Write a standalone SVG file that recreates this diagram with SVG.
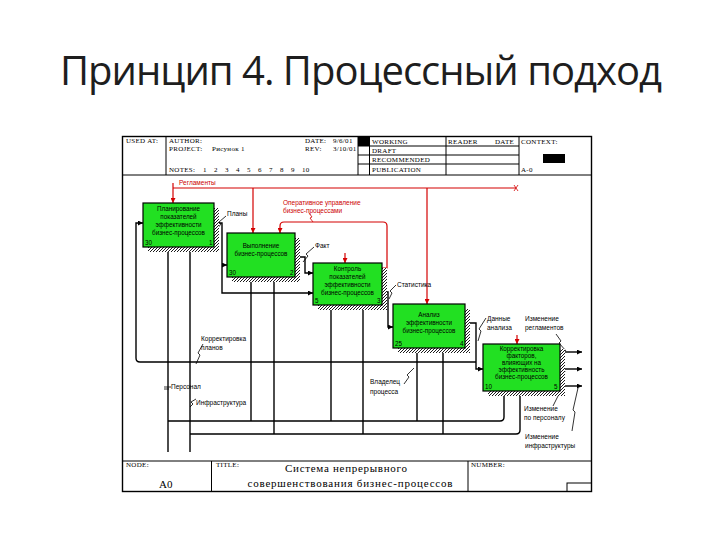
<svg xmlns="http://www.w3.org/2000/svg" width="720" height="540" viewBox="0 0 720 540">
<defs>
<style>
.title{font-family:"Open Sans","Liberation Sans",sans-serif;font-size:40px;fill:#1e1e1e}
.hd{font-family:"Liberation Serif",serif;font-size:7px;fill:#000;letter-spacing:0.3px}
.ft{font-family:"Liberation Serif",serif;font-size:11px;fill:#000}
.ln{fill:none;stroke:#000;stroke-width:1}
.fr{fill:none;stroke:#000;stroke-width:1.4}
.bx{fill:#22e022;stroke:#000;stroke-width:1.2}
.sh{fill:url(#hatch)}
.bt{font-family:"Liberation Sans",sans-serif;font-size:6.3px;fill:#000;text-anchor:middle}
.bn{font-family:"Liberation Sans",sans-serif;font-size:6.3px;fill:#000}
.lb{font-family:"Liberation Sans",sans-serif;font-size:6.5px;fill:#000}
.rl{font-family:"Liberation Sans",sans-serif;font-size:6.5px;fill:#cc0000}
.k{fill:none;stroke:#000;stroke-width:1.4}
.kt{fill:none;stroke:#000;stroke-width:0.8}
.r{fill:none;stroke:#d40000;stroke-width:1.2}
.rt{fill:none;stroke:#d40000;stroke-width:0.8}
</style>
<pattern id="hatch" width="3" height="3" patternUnits="userSpaceOnUse">
<rect width="3" height="3" fill="#fff"/>
<path d="M0,3 L3,0" stroke="#000" stroke-width="0.9"/>
</pattern>
<marker id="ak" viewBox="0 0 6 6" refX="6" refY="3" markerWidth="5" markerHeight="5" markerUnits="userSpaceOnUse" orient="auto"><path d="M0,0 L6,3 L0,6 Z" fill="#000"/></marker>
<marker id="ar" viewBox="0 0 6 6" refX="6" refY="3" markerWidth="5" markerHeight="5" markerUnits="userSpaceOnUse" orient="auto"><path d="M0,0 L6,3 L0,6 Z" fill="#d40000"/></marker>
</defs>
<rect width="720" height="540" fill="#fff"/>
<text class="title" x="60" y="85" textLength="602">Принцип 4. Процессный подход</text>

<g id="frame">
<rect class="fr" x="122.5" y="136.5" width="469" height="355"/>
<path class="ln" d="M122.5,175 H591.5 M166,136.5 V175 M358,136.5 V175 M369.5,136.5 V175 M446,136.5 V175 M519,136.5 V175 M358,146 H519 M358,155 H519 M358,164 H519"/>
<rect x="358" y="136.5" width="11.5" height="9.5" fill="#000"/>
<rect x="543" y="154" width="22" height="9" fill="#000"/>
<text class="hd" x="126" y="143">USED AT:</text>
<text class="hd" x="169" y="143">AUTHOR:</text>
<text class="hd" x="169" y="151">PROJECT:</text>
<text class="hd" x="212" y="151">Рисунок 1</text>
<text class="hd" x="305" y="143">DATE:</text>
<text class="hd" x="333" y="143">9/6/01</text>
<text class="hd" x="305" y="151">REV:</text>
<text class="hd" x="333" y="151">3/10/01</text>
<text class="hd" x="169" y="172">NOTES:</text>
<text class="hd" x="203" y="172">1</text><text class="hd" x="214" y="172">2</text><text class="hd" x="225" y="172">3</text><text class="hd" x="236" y="172">4</text><text class="hd" x="247" y="172">5</text><text class="hd" x="258" y="172">6</text><text class="hd" x="269" y="172">7</text><text class="hd" x="280" y="172">8</text><text class="hd" x="291" y="172">9</text><text class="hd" x="302" y="172">10</text>
<text class="hd" x="372" y="144">WORKING</text>
<text class="hd" x="372" y="153">DRAFT</text>
<text class="hd" x="372" y="162">RECOMMENDED</text>
<text class="hd" x="372" y="172">PUBLICATION</text>
<text class="hd" x="448" y="144">READER</text>
<text class="hd" x="495" y="144">DATE</text>
<text class="hd" x="521" y="144">CONTEXT:</text>
<text class="hd" x="521" y="172">A-0</text>
<path class="ln" d="M122.5,461 H591.5 M211.5,461 V491.5 M468,461 V491.5"/>
<rect class="ln" x="567" y="483" width="24.5" height="8.5"/>
<text class="hd" x="126" y="467">NODE:</text>
<text class="ft" x="159" y="488" font-size="10">A0</text>
<text class="hd" x="216" y="467">TITLE:</text>
<text class="hd" x="471" y="467">NUMBER:</text>
<text class="ft" x="346" y="472" text-anchor="middle" textLength="122">Система непрерывного</text>
<text class="ft" x="350" y="487" text-anchor="middle" textLength="205">совершенствования бизнес-процессов</text>
</g>

<g id="connectors">
<!-- controls (red) -->
<path class="r" d="M173,183 V203" marker-end="url(#ar)"/>
<path class="r" d="M173,188 H516"/>
<path class="rt" d="M514,185 L518,191 M518,185 L514,191"/>
<path class="r" d="M253,188 V233" marker-end="url(#ar)"/>
<path class="r" d="M427,188 V304" marker-end="url(#ar)"/>
<path class="r" d="M382,268 H387 V226 Q387,222 383,222 H284 Q280,222 280,226 V233" marker-end="url(#ar)"/>
<path class="r" d="M345,253 V263" marker-end="url(#ar)"/>
<path class="r" d="M517,335 V344" marker-end="url(#ar)"/>
<path class="rt" d="M309,213 L312,217 L310,218 L313,222"/>
<!-- outputs / inputs -->
<path class="k" d="M214,223 H222 V293 H313" marker-end="url(#ak)"/>
<path class="k" d="M222,265 H227" marker-end="url(#ak)"/>
<path class="k" d="M295,257 H305 V273 H313" marker-end="url(#ak)"/>
<path class="k" d="M382,292 H388 V327 H393" marker-end="url(#ak)"/>
<path class="k" d="M465,323 H476 V369 H483" marker-end="url(#ak)"/>
<path class="k" d="M476,362 H140 Q136,362 136,358 V223 H143" marker-end="url(#ak)"/>
<path class="k" d="M560,352 H582" marker-end="url(#ak)"/>
<path class="k" d="M560,369 H582" marker-end="url(#ak)"/>
<path class="k" d="M560,386 H582" marker-end="url(#ak)"/>
<!-- mechanisms -->
<path class="k" d="M168,452 V247" marker-end="url(#ak)"/>
<path class="k" d="M190,452 V247" marker-end="url(#ak)"/>
<path class="k" d="M168,421 H500 Q504,421 504,417 V391" marker-end="url(#ak)"/>
<path class="k" d="M190,434 H516 Q520,434 520,430 V391" marker-end="url(#ak)"/>
<path class="k" d="M251,421 V277" marker-end="url(#ak)"/>
<path class="k" d="M274,434 V277" marker-end="url(#ak)"/>
<path class="k" d="M331,421 V305" marker-end="url(#ak)"/>
<path class="k" d="M363,434 V305" marker-end="url(#ak)"/>
<path class="k" d="M417,421 V348" marker-end="url(#ak)"/>
<path class="k" d="M443,434 V348" marker-end="url(#ak)"/>
<!-- label squiggles -->
<path class="kt" d="M217,229 L221,224 L219,222 L226,216"/>
<path class="kt" d="M303,262 L308,256 L306,254 L314,247"/>
<path class="kt" d="M389,299 L392,293 L390,291 L396,285"/>
<path class="kt" d="M478,341 L481,331 L479,329 L486,318"/>
<path class="kt" d="M196,364 L200,355 L198,353 L203,344"/>
<path class="kt" d="M164,387 H171 M164,389 H169"/>
<path class="kt" d="M190,407 L193,404 L191,402 L196,399"/>
<path class="kt" d="M404,384 L409,377 L407,375 L414,368"/>
<path class="kt" d="M556,334 L561,341 L559,343 L566,351"/>
<path class="kt" d="M553,406 L559,394 L557,392 L565,371"/>
<path class="kt" d="M572,431 L575,412 L573,410 L578,388"/>
</g>

<g id="labels">
<text class="rl" x="179" y="185">Регламенты</text>
<text class="rl" x="283" y="205">Оперативное управление</text>
<text class="rl" x="283" y="213">бизнес-процессами</text>
<text class="lb" x="227" y="216">Планы</text>
<text class="lb" x="315" y="248">Факт</text>
<text class="lb" x="397" y="287">Статистика</text>
<text class="lb" x="487" y="321">Данные</text>
<text class="lb" x="487" y="330">анализа</text>
<text class="lb" x="525" y="321">Изменение</text>
<text class="lb" x="525" y="330">регламентов</text>
<text class="lb" x="201" y="341">Корректировка</text>
<text class="lb" x="201" y="350">планов</text>
<text class="lb" x="171" y="389">Персонал</text>
<text class="lb" x="196" y="405">Инфраструктура</text>
<text class="lb" x="370" y="384">Владелец</text>
<text class="lb" x="370" y="394">процесса</text>
<text class="lb" x="524" y="411">Изменение</text>
<text class="lb" x="524" y="420">по персоналу</text>
<text class="lb" x="525" y="439">Изменение</text>
<text class="lb" x="525" y="448">инфраструктуры</text>
</g>

<g id="box1">
<rect class="sh" x="148" y="208" width="71" height="44"/>
<rect class="bx" x="143" y="203" width="71" height="44"/>
<text class="bt" x="178.5" y="211">Планирование</text>
<text class="bt" x="178.5" y="219">показателей</text>
<text class="bt" x="178.5" y="227">эффективности</text>
<text class="bt" x="178.5" y="235">бизнес-процессов</text>
<text class="bn" x="145" y="245">30</text>
<text class="bn" x="209" y="245">1</text>
</g>
<g id="box2">
<rect class="sh" x="232" y="238" width="68" height="44"/>
<rect class="bx" x="227" y="233" width="68" height="44"/>
<text class="bt" x="261" y="248">Выполнение</text>
<text class="bt" x="261" y="256">бизнес-процессов</text>
<text class="bn" x="229" y="275">30</text>
<text class="bn" x="290" y="275">2</text>
</g>
<g id="box3">
<rect class="sh" x="318" y="268" width="69" height="42"/>
<rect class="bx" x="313" y="263" width="69" height="42"/>
<text class="bt" x="347.5" y="271">Контроль</text>
<text class="bt" x="347.5" y="279">показателей</text>
<text class="bt" x="347.5" y="287">эффективности</text>
<text class="bt" x="347.5" y="295">бизнес-процессов</text>
<text class="bn" x="315" y="303">5</text>
<text class="bn" x="377" y="303">3</text>
</g>
<g id="box4">
<rect class="sh" x="398" y="309" width="72" height="44"/>
<rect class="bx" x="393" y="304" width="72" height="44"/>
<text class="bt" x="429" y="317">Анализ</text>
<text class="bt" x="429" y="325">эффективности</text>
<text class="bt" x="429" y="333">бизнес-процессов</text>
<text class="bn" x="395" y="346">25</text>
<text class="bn" x="460" y="346">4</text>
</g>
<g id="box5">
<rect class="sh" x="488" y="349" width="77" height="47"/>
<rect class="bx" x="483" y="344" width="77" height="47"/>
<text class="bt" x="521.5" y="351">Корректировка</text>
<text class="bt" x="521.5" y="358">факторов,</text>
<text class="bt" x="521.5" y="365">влияющих на</text>
<text class="bt" x="521.5" y="372">эффективность</text>
<text class="bt" x="521.5" y="379">бизнес-процессов</text>
<text class="bn" x="485" y="389">10</text>
<text class="bn" x="554" y="389">5</text>
</g>
</svg>
